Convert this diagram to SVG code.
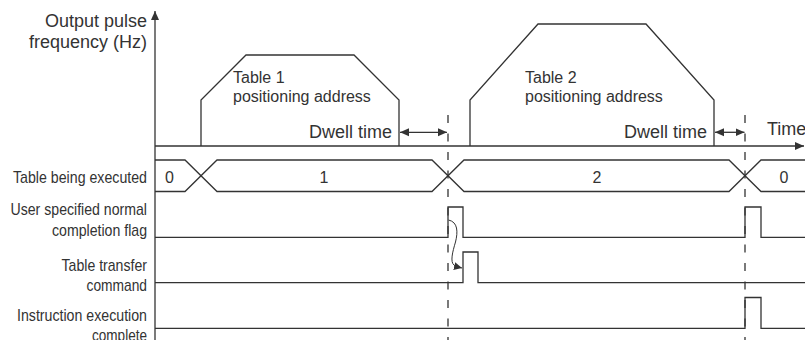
<svg xmlns="http://www.w3.org/2000/svg" width="805" height="340" viewBox="0 0 805 340">
<style>
.ln{fill:none;stroke:#333;stroke-width:1.3}
.dash{fill:none;stroke:#333;stroke-width:1.3;stroke-dasharray:8 10.5}
.thin{fill:none;stroke:#333;stroke-width:1}
.t{font-family:"Liberation Sans",Arial,sans-serif;fill:#333}
.ax{font-size:18px}
.tb{font-size:16px}
.lb{font-size:17px;text-anchor:end}
.dg{font-size:16px;text-anchor:middle}
</style>
<defs>
<marker id="ah" markerWidth="10" markerHeight="10" refX="9" refY="5" orient="auto" markerUnits="userSpaceOnUse">
<path d="M0,1 L9,5 L0,9 Z" fill="#333"/>
</marker>
<marker id="ahs" markerWidth="10" markerHeight="10" refX="9" refY="5" orient="auto-start-reverse" markerUnits="userSpaceOnUse">
<path d="M0,1 L9,5 L0,9 Z" fill="#333"/>
</marker>
<marker id="ahc" markerWidth="10" markerHeight="10" refX="8" refY="4.5" orient="auto" markerUnits="userSpaceOnUse">
<path d="M0,0.5 L8,4.5 L0,8.5 Z" fill="#333"/>
</marker>
</defs>

<g id="axes">
<line class="ln" x1="155" y1="340" x2="155" y2="11" marker-end="url(#ah)"/>
<line class="ln" x1="155" y1="146" x2="804" y2="146" marker-end="url(#ah)"/>
<text class="t ax" x="147" y="27" text-anchor="end">Output pulse</text>
<text class="t ax" x="147" y="48" text-anchor="end">frequency (Hz)</text>
<text class="t ax" x="767" y="135">Time</text>
</g>

<g id="table1">
<polyline class="ln" points="201,146 201,100 246,55 354,55 399,100 399,146"/>
<text class="t tb" x="233" y="83">Table 1</text>
<text class="t tb" x="233" y="102">positioning address</text>
<text class="t ax" x="392" y="138" text-anchor="end">Dwell time</text>
</g>

<g id="table2">
<polyline class="ln" points="470,146 470,100 538,24 646,24 714,100 714,146"/>
<text class="t tb" x="525" y="83">Table 2</text>
<text class="t tb" x="525" y="102">positioning address</text>
<text class="t ax" x="707" y="138" text-anchor="end">Dwell time</text>
</g>

<g id="row-labels">
<text class="t lb" x="147" y="183" textLength="134" lengthAdjust="spacingAndGlyphs">Table being executed</text>
<text class="t lb" x="147" y="214.5" textLength="136.5" lengthAdjust="spacingAndGlyphs">User specified normal</text>
<text class="t lb" x="147" y="235.5" textLength="95" lengthAdjust="spacingAndGlyphs">completion flag</text>
<text class="t lb" x="147" y="270.5" textLength="85.5" lengthAdjust="spacingAndGlyphs">Table transfer</text>
<text class="t lb" x="147" y="290.5" textLength="60.5" lengthAdjust="spacingAndGlyphs">command</text>
<text class="t lb" x="147" y="321" textLength="130" lengthAdjust="spacingAndGlyphs">Instruction execution</text>
<text class="t lb" x="147" y="341" textLength="55" lengthAdjust="spacingAndGlyphs">complete</text>
</g>

<g id="bus">
<path class="ln" d="M155,160 H185 L217,191.5 H432 L464,160 H729 L761,191.5 H805"/>
<path class="ln" d="M155,191.5 H185 L217,160 H432 L464,191.5 H729 L761,160 H805"/>
<text class="t dg" x="169.5" y="182.5">0</text>
<text class="t dg" x="324" y="182.5">1</text>
<text class="t dg" x="597" y="182.5">2</text>
<text class="t dg" x="784" y="182.5">0</text>
</g>

<g id="signals">
<polyline class="ln" points="155,237.3 448,237.3 448,207 463,207 463,237.3 745,237.3 745,207 761,207 761,237.3 805,237.3"/>
<polyline class="ln" points="155,282.7 463,282.7 463,252 478,252 478,282.7 805,282.7"/>
<polyline class="ln" points="155,328.3 745,328.3 745,297.5 761,297.5 761,328.3 805,328.3"/>
</g>

<g id="connectors">
<line class="dash" x1="448" y1="115" x2="448" y2="340"/>
<line class="dash" x1="745" y1="115" x2="745" y2="340"/>
<line class="ln" x1="400" y1="132.3" x2="447" y2="132.3" marker-start="url(#ahs)" marker-end="url(#ahs)"/>
<line class="ln" x1="715" y1="132.3" x2="744.5" y2="132.3" marker-start="url(#ahs)" marker-end="url(#ahs)"/>
<path class="thin" d="M448.5,220 C458,222 458,232 455.5,242 C452.5,252 450,262 454,265 C456,266.5 459,267.3 462,268" marker-end="url(#ahc)"/>
</g>
</svg>
